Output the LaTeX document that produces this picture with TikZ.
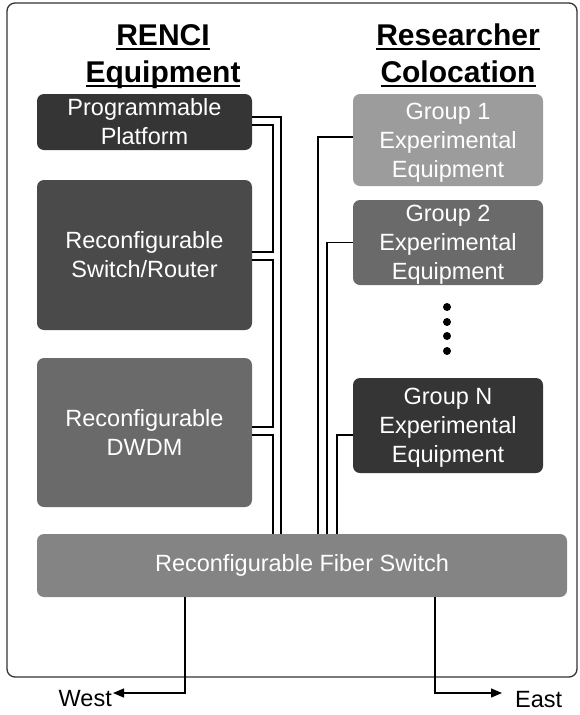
\documentclass[tikz,border=0pt]{standalone}
\usepackage{fontspec}
\setmainfont{Liberation Sans}
\usetikzlibrary{arrows.meta}

\definecolor{boxdark}{HTML}{353535}
\definecolor{boxmid}{HTML}{4A4A4A}
\definecolor{boxgray}{HTML}{6A6A6A}
\definecolor{boxlight}{HTML}{9C9C9C}
\definecolor{boxfiber}{HTML}{848484}
\newsavebox{\hdbox}
\newcommand{\hdline}[1]{\sbox{\hdbox}{#1}\rlap{\rule[-4.5pt]{\wd\hdbox}{2pt}}\usebox{\hdbox}}

\begin{document}
\begin{tikzpicture}[x=1pt, y=-1pt,
    every node/.style={inner sep=0pt},
    unit/.style={rounded corners=7pt, draw=none, text=white, align=center,
        font=\fontsize{23.5}{29}\selectfont},
    heading/.style={align=center, anchor=base, font=\bfseries\fontsize{30}{37}\selectfont},
    wire/.style={line width=1.3pt, black},
    outlet/.style={line width=1.3pt, black, -{Triangle[length=11pt, width=9pt]}}]
            \useasboundingbox (0,0) rectangle (579,715);
            \draw[line width=1.3pt, black!80, rounded corners=8pt] (7,3) rectangle (577,677);

            % Headings
            \node[heading] (renci) at (163,82) {\hdline{RENCI}\\\hdline{Equipment}};
            \node[heading] (coloc) at (458,82) {\hdline{Researcher}\\\hdline{Colocation}};

            % Boxes
            \node[unit, fill=boxdark, minimum width=215pt, minimum height=56pt] (pp) at (144.5,122) {Programmable\\Platform};
            \node[unit, fill=boxmid, minimum width=215pt, minimum height=150pt] (sr) at (144.5,255) {Reconfigurable\\Switch/Router};
            \node[unit, fill=boxgray, minimum width=215pt, minimum height=149pt] (dwdm) at (144.5,432.5) {Reconfigurable\\DWDM};
            \node[unit, fill=boxlight, minimum width=190pt, minimum height=92pt, text depth=0pt] (g1) at (448,140) {Group 1\\Experimental\\Equipment};
            \node[unit, fill=boxgray, minimum width=190pt, minimum height=85pt, text depth=0pt] (g2) at (448,242.5) {Group 2\\Experimental\\Equipment};
            \node[unit, fill=boxdark, minimum width=190pt, minimum height=95pt, text depth=0pt] (gn) at (448,425.5) {Group N\\Experimental\\Equipment};
            \node[unit, fill=boxfiber, minimum width=530pt, minimum height=63pt] (fs) at (302,565.5) {Reconfigurable Fiber Switch};
            \foreach \y in {307,322,336,351}
                \fill (447,\y) circle (4pt);

            % Wire columns
            \coordinate (busA) at (273,0);
            \coordinate (busB) at (281,0);
            \coordinate (busC) at (318,0);
            \coordinate (busD) at (327,0);
            \coordinate (busE) at (337,0);
            \coordinate (busW) at (185,0);
            \coordinate (busX) at (435,0);

            % Wires
            \draw[wire] ([yshift=5pt]pp.east) -| (fs.north -| busB);
            \draw[wire] ([yshift=-3pt]pp.east) -| ([yshift=3pt]sr.east -| busA) -- ([yshift=3pt]sr.east);
            \draw[wire] ([yshift=-5pt]sr.east) -| ([yshift=5.5pt]dwdm.east -| busA) -- ([yshift=5.5pt]dwdm.east);
            \draw[wire] ([yshift=-2.5pt]dwdm.east) -| (fs.north -| busA);
            \draw[wire] ([yshift=3pt]g1.west) -| (fs.north -| busC);
            \draw[wire] (g2.west) -| (fs.north -| busD);
            \draw[wire] ([yshift=-9.5pt]gn.west) -| (fs.north -| busE);

            % Outlets
            \node[anchor=base east, font=\fontsize{23.5}{29}\selectfont] (west) at (112,706) {West};
            \node[anchor=base west, font=\fontsize{23.5}{29}\selectfont] (east) at (515,707) {East};
            \draw[outlet] (fs.south -| busW) |- ([xshift=1pt, yshift=13pt]west.base east);
            \draw[outlet] (fs.south -| busX) |- ([xshift=-13pt, yshift=14pt]east.base west);
        \end{tikzpicture}
\end{document}
